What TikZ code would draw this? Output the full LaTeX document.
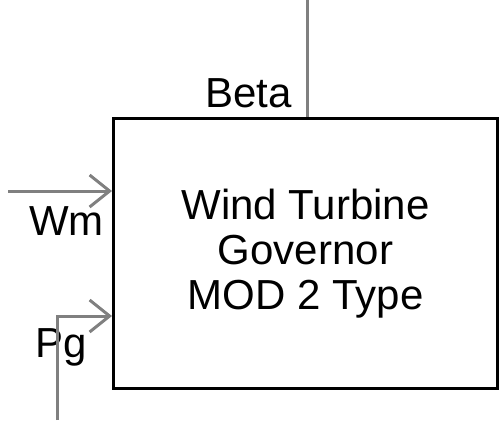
\documentclass[tikz,border=0pt]{standalone}
\usepackage{fontspec}
\setmainfont{Liberation Sans}
\usetikzlibrary{positioning,arrows.meta,calc}
\definecolor{siggray}{HTML}{808080}

\begin{document}
\begin{tikzpicture}[x=1pt, y=-1pt, >={Straight Barb[length=20pt,width=32pt]},
    sig/.style={draw=siggray, line width=3pt},
    port/.style={font=\fontsize{42}{45}\selectfont, anchor=base, inner sep=0pt}]
  \useasboundingbox (0,0) rectangle (500,420);
  % block
  \node[draw, line width=3pt, minimum width=384pt, minimum height=269.5pt, inner sep=0pt,
        align=center, font=\fontsize{42}{45}\selectfont] (gov) at (305.5,253.25)
        {Wind Turbine\\Governor\\MOD 2 Type};
  % port labels
  \node[port] (beta) at (248.5,107) {Beta};
  \node[port] (wm) at (66.5,235) {Wm};
  \node[port] (pg) at (61.5,357) {Pg};
  % signal ends
  \coordinate (betatop) at (307.5,0);
  \coordinate (wmin) at (8,191);
  \coordinate (pgin) at (57.5,420);
  \coordinate (pgbend) at (57.5,316);
  % signals
  \draw[sig] (betatop) -- (betatop |- gov.north);
  \draw[sig,->] (wmin) -- (wmin -| gov.west);
  \draw[sig,->] (pgin) -- (pgbend) -- (pgbend -| gov.west);
\end{tikzpicture}
\end{document}
